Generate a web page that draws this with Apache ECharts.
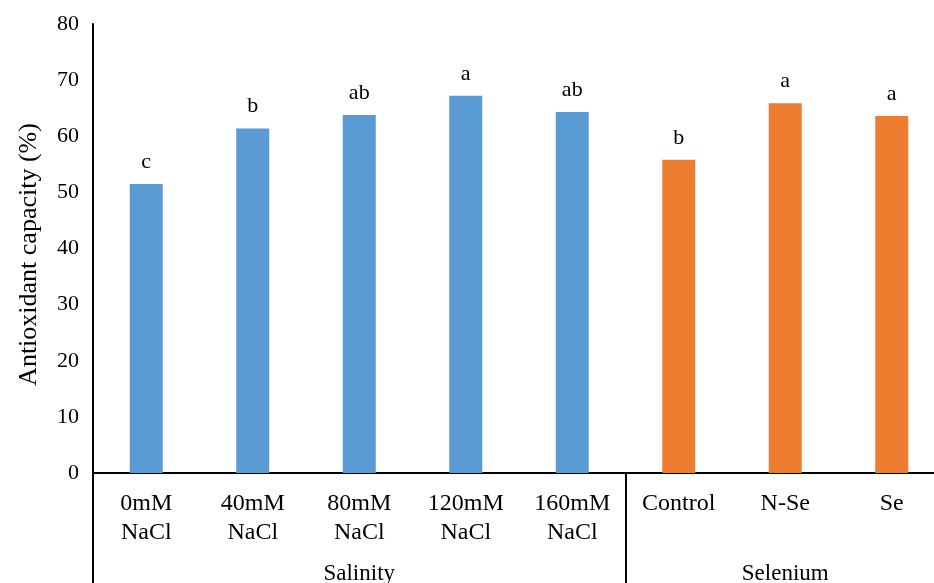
<!DOCTYPE html>
<html>
<head>
<meta charset="utf-8">
<script src="https://cdn.jsdelivr.net/npm/echarts@6/dist/echarts.min.js"></script>
<style>
  html, body { margin: 0; padding: 0; background: #fff; overflow: hidden; }
  #chart { width: 934px; height: 583px; }
</style>
</head>
<body>
<div id="chart"></div>
<script>
// Treatments, their measured antioxidant capacity and significance letters
const categories = ['0mM\nNaCl', '40mM\nNaCl', '80mM\nNaCl', '120mM\nNaCl', '160mM\nNaCl', 'Control', 'N-Se', 'Se'];
const values = [51.5, 61.4, 63.8, 67.2, 64.3, 55.8, 65.9, 63.6];
const letters = ['c', 'b', 'ab', 'a', 'ab', 'b', 'a', 'a'];
const groupOf = [0, 0, 0, 0, 0, 1, 1, 1];
const groupNames = ['Salinity', 'Selenium'];
const groupLabelIndex = [2, 6];   // category under which each group name is centred
const groupStartIndex = [0, 5];   // category where each group begins
const groupColors = ['#5B9BD5', '#ED7D31'];
const yTicks = { min: 0, max: 80, interval: 10 };

const serif = 'Liberation Serif, Times New Roman, serif';
const chart = echarts.init(document.getElementById('chart'));

chart.setOption({
  animation: false,
  backgroundColor: '#fff',
  // the plot runs a little past the right edge of the canvas
  grid: { left: 93, width: 852, top: 24, bottom: 110, outerBoundsMode: 'none' },
  xAxis: [
    {
      type: 'category',
      data: categories,
      boundaryGap: true,
      axisLine: { lineStyle: { color: '#000', width: 2 } },
      axisTick: { show: false },
      axisLabel: { color: '#000', fontFamily: serif, fontSize: 24, lineHeight: 29, margin: 16 }
    },
    {
      type: 'category',
      data: categories,
      position: 'bottom',
      boundaryGap: true,
      axisLine: { show: false },
      axisTick: {
        show: true,
        length: 112,
        interval: (i) => groupStartIndex.includes(i),
        lineStyle: { color: '#000', width: 2 }
      },
      axisLabel: {
        color: '#000', fontFamily: serif, fontSize: 23, margin: 89,
        interval: (i) => groupLabelIndex.includes(i),
        formatter: (v, i) => {
          const g = groupLabelIndex.indexOf(i);
          return g >= 0 ? groupNames[g] : '';
        }
      }
    }
  ],
  yAxis: {
    type: 'value',
    min: yTicks.min, max: yTicks.max, interval: yTicks.interval,
    name: 'Antioxidant capacity (%)',
    nameLocation: 'middle',
    nameGap: 51,
    nameTextStyle: { color: '#000', fontFamily: serif, fontSize: 26, padding: [0, 12, 0, 0] },
    axisLine: { show: true, lineStyle: { color: '#000', width: 2 } },
    axisTick: { show: false },
    splitLine: { show: false },
    axisLabel: { color: '#000', fontFamily: serif, fontSize: 22, margin: 14 }
  },
  series: [{
    type: 'bar',
    xAxisIndex: 0,
    barWidth: '31%',
    data: values.map((v, i) => ({ value: v, itemStyle: { color: groupColors[groupOf[i]] } })),
    label: {
      show: true,
      position: 'top',
      distance: 11,
      color: '#000',
      fontFamily: serif,
      fontSize: 22,
      formatter: (p) => letters[p.dataIndex]
    }
  }]
});
</script>
</body>
</html>
